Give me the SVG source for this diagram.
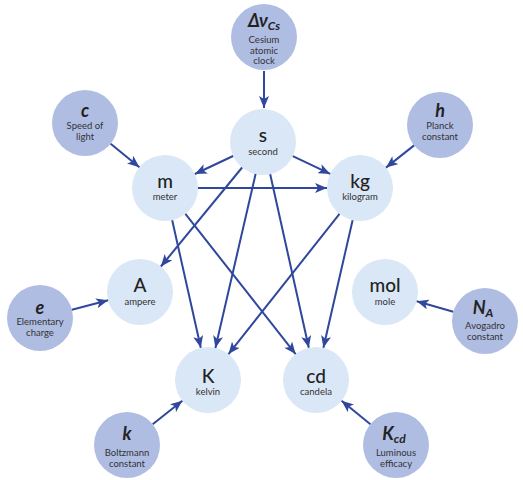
<svg xmlns="http://www.w3.org/2000/svg" width="523" height="480" viewBox="0 0 523 480">
<defs>
<marker id="ah" viewBox="0 0 12 10" refX="12" refY="5" markerWidth="12" markerHeight="10" markerUnits="userSpaceOnUse" orient="auto">
<path d="M0,0 L12,5 L0,10 L3,5 z" fill="#2f479c"/>
</marker>
<style>
.lt{fill:#dae7f6}
.dk{fill:#afbde3}
.sym{font-family:Lato,"Liberation Sans",sans-serif;font-size:19px;fill:#222;text-anchor:middle;font-weight:500}
.nm{font-family:Lato,"Liberation Sans",sans-serif;font-size:9.5px;fill:#333;text-anchor:middle}
.dsym{font-family:Lato,"Liberation Sans",sans-serif;font-size:18px;fill:#222;text-anchor:middle;font-style:italic;font-weight:700}
.dnm{font-family:Lato,"Liberation Sans",sans-serif;font-size:9.5px;fill:#333;text-anchor:middle}
.sub{font-size:12px}
#edges line{stroke:#2f479c;stroke-width:2;marker-end:url(#ah)}
</style>
</defs>
<rect width="523" height="480" fill="#fff"/>
<g id="n-dnu"><circle class="dk" cx="264" cy="37" r="33"/><text class="dsym" x="264" y="27">Δν<tspan class="sub" dy="3">Cs</tspan></text><text class="dnm" x="264" y="43">Cesium</text><text class="dnm" x="264" y="53.5">atomic</text><text class="dnm" x="264" y="64">clock</text></g>
<g id="n-s"><circle class="lt" cx="263" cy="142" r="33"/><text class="sym" x="263" y="142">s</text><text class="nm" x="263" y="155">second</text></g>
<g id="n-c"><circle class="dk" cx="85" cy="123" r="33"/><text class="dsym" x="85" y="117">c</text><text class="dnm" x="85" y="129">Speed of</text><text class="dnm" x="85" y="139.5">light</text></g>
<g id="n-h"><circle class="dk" cx="440" cy="125" r="33"/><text class="dsym" x="440" y="117">h</text><text class="dnm" x="440" y="129">Planck</text><text class="dnm" x="440" y="139.5">constant</text></g>
<g id="n-m"><circle class="lt" cx="165" cy="188" r="33"/><text class="sym" x="165" y="188">m</text><text class="nm" x="165" y="200">meter</text></g>
<g id="n-kg"><circle class="lt" cx="360" cy="188" r="33"/><text class="sym" x="360" y="188">kg</text><text class="nm" x="360" y="200">kilogram</text></g>
<g id="n-A"><circle class="lt" cx="140" cy="292" r="33"/><text class="sym" x="140" y="292">A</text><text class="nm" x="140" y="305">ampere</text></g>
<g id="n-mol"><circle class="lt" cx="385" cy="292" r="33"/><text class="sym" x="385" y="292">mol</text><text class="nm" x="385" y="305">mole</text></g>
<g id="n-e"><circle class="dk" cx="40" cy="318" r="33"/><text class="dsym" x="40" y="314">e</text><text class="dnm" x="40" y="325">Elementary</text><text class="dnm" x="40" y="335.5">charge</text></g>
<g id="n-NA"><circle class="dk" cx="485" cy="321" r="33"/><text class="dsym" x="483" y="314">N<tspan class="sub" dy="3">A</tspan></text><text class="dnm" x="485" y="329">Avogadro</text><text class="dnm" x="485" y="339.5">constant</text></g>
<g id="n-K"><circle class="lt" cx="208" cy="380" r="33"/><text class="sym" x="208" y="383">K</text><text class="nm" x="208" y="395">kelvin</text></g>
<g id="n-cd"><circle class="lt" cx="316" cy="380" r="33"/><text class="sym" x="316" y="383">cd</text><text class="nm" x="316" y="395">candela</text></g>
<g id="n-k"><circle class="dk" cx="127" cy="445" r="33"/><text class="dsym" x="127" y="440">k</text><text class="dnm" x="127" y="456">Boltzmann</text><text class="dnm" x="127" y="466.5">constant</text></g>
<g id="n-Kcd"><circle class="dk" cx="396" cy="445" r="33"/><text class="dsym" x="394" y="440">K<tspan class="sub" dy="3">cd</tspan></text><text class="dnm" x="396" y="456">Luminous</text><text class="dnm" x="396" y="466.5">efficacy</text></g>
<g id="edges">
<line x1="264" y1="71" x2="264" y2="108"/>
<line x1="110.6" y1="143.8" x2="139.4" y2="167.2"/>
<line x1="414.1" y1="145.4" x2="386" y2="167.6"/>
<line x1="233.1" y1="156" x2="194.9" y2="174"/>
<line x1="292.8" y1="156.1" x2="330.2" y2="173.9"/>
<line x1="198" y1="188" x2="327" y2="188"/>
<line x1="242.1" y1="167.5" x2="160.9" y2="266.5"/>
<line x1="255.6" y1="174.1" x2="215.4" y2="347.9"/>
<line x1="270.2" y1="174.2" x2="308.8" y2="347.8"/>
<line x1="172.2" y1="220.2" x2="200.8" y2="347.8"/>
<line x1="185.4" y1="213.9" x2="295.6" y2="354.1"/>
<line x1="339.5" y1="213.9" x2="228.5" y2="354.1"/>
<line x1="352.6" y1="220.2" x2="323.4" y2="347.8"/>
<line x1="71.9" y1="309.7" x2="108.1" y2="300.3"/>
<line x1="453.3" y1="311.8" x2="416.7" y2="301.2"/>
<line x1="152.7" y1="424.3" x2="182.3" y2="400.7"/>
<line x1="370.4" y1="424.2" x2="341.6" y2="400.8"/>
</g>
</svg>
